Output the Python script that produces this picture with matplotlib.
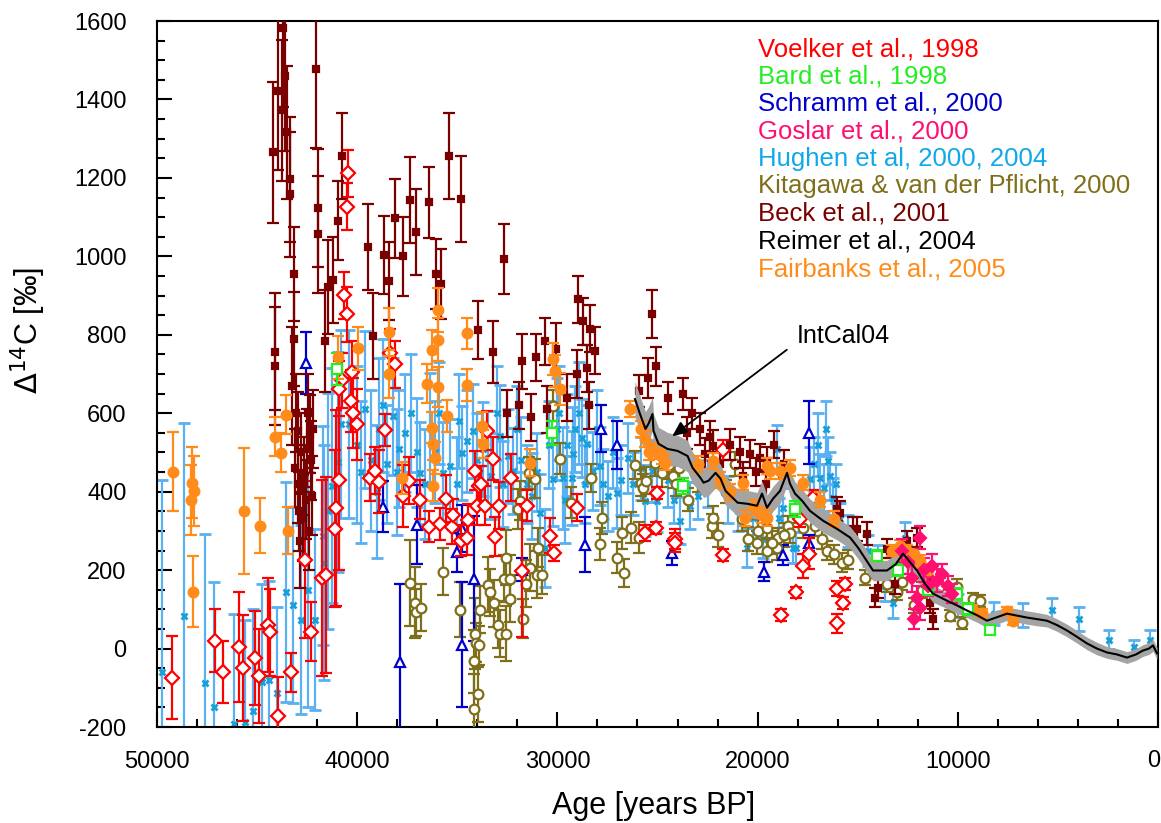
import matplotlib
matplotlib.use("Agg")
import matplotlib.pyplot as plt
from matplotlib.ticker import MultipleLocator, FuncFormatter

plt.rcParams['font.family'] = ['Liberation Sans', 'DejaVu Sans']
plt.rcParams['axes.unicode_minus'] = False

# ---------------- data ----------------
voelker_age = [49250, 47100, 46700, 45900, 45700, 45100, 44900, 44450, 44350, 43950, 43300, 42600, 42300,
               41750, 41550, 41100, 41060, 40900, 40650, 40500, 40450, 40500, 40260, 40760, 40900, 40300,
               40200, 40000, 39360, 39100, 38900, 38600, 38360, 38110, 37700, 37400, 36860, 36400, 35860,
               35560, 35260, 35210, 34810, 34510, 34460, 34110, 34010, 33910, 33810, 33610, 33510, 33220,
               32920, 33120, 32320, 31770, 31520, 30370, 30170, 29020, 25620, 25020, 25070, 24130, 24130,
               21730, 21730, 18830, 18080, 17730, 17430, 17880, 17230, 16030, 15630, 15730, 16030]
voelker_d14c = [-74, 20, -60, 5, -50, -23, -69, 59, 41, -173, -61, 227, 43,
                181, 188, 306, 359, 430, 901, 852, 1212, 1126, 705, 684, 662, 631,
                601, 572, 435, 453, 425, 557, 754, 725, 389, 428, 380, 311, 318,
                382, 311, 341, 275, 283, 328, 453, 364, 415, 420, 364, 555, 484,
                364, 285, 435, 199, 364, 288, 244, 359, 295, 397, 308, 280, 270,
                507, 239, 86, 143, 211, 242, 331, 385, 153, 165, 117, 64]
voelker_err = [105, 80, 80, 140, 135, 120, 120, 120, 110, 100, 50, 200, 75,
               250, 250, 200, 250, 230, 60, 70, 60, 60, 80, 70, 70, 80,
               90, 90, 60, 60, 80, 40, 60, 60, 80, 60, 50, 40, 40,
               60, 45, 40, 40, 45, 40, 50, 50, 50, 45, 50, 50, 55,
               60, 50, 60, 170, 40, 45, 20, 35, 20, 15, 15, 25, 25,
               25, 15, 15, 15, 30, 40, 20, 20, 20, 15, 15, 25]

bard_age = [41010, 30270, 23720, 18130, 14040, 13000, 11500, 10040, 9500, 8390]
bard_d14c = [713, 550, 415, 356, 237, 200, 150, 140, 100, 48]
bard_err = [40, 30, 20, 20, 15, 15, 15, 15, 15, 12]

schramm_age = [42560, 38700, 37850, 37010, 35020, 34770, 34770, 34170, 31770, 28620, 27820, 27020,
               24280, 19680, 18730, 17430, 17430]
schramm_d14c = [728, 361, -35, 316, 245, 306, 10, 178, 201, 265, 560, 519,
                244, 196, 239, 550, 270]
schramm_err = [80, 65, 200, 100, 50, 60, 160, 160, 30, 70, 60, 60,
               30, 25, 25, 80, 20]

goslar_age = [12800, 12500, 12300, 12190, 12040, 11890, 11890, 11700, 11500, 11300, 11040, 10800, 10490, 10300]
goslar_d14c = [250, 220, 180, 76, 130, 283, 104, 200, 160, 210, 173, 190, 160, 140]
goslar_err = [30, 30, 35, 25, 30, 30, 30, 30, 25, 30, 30, 25, 25, 25]

hughen_age = [49750, 48650, 47600, 47150, 46150, 45600, 45200, 44760, 44400, 44000, 43560, 43200, 42810,
              42450, 42100, 41710, 41650, 41460, 41260, 40960, 40810, 40410, 40000, 39600, 39300, 38900,
              38500, 38200, 37900, 37610, 36860, 36360, 35710, 35360, 34770, 34510, 34210, 33720, 33470,
              32870, 32470, 32220, 31270, 30870, 30620, 30220, 30000, 29720, 29500, 29270, 29220, 28900,
              28770, 28520, 28220, 27870, 27470, 27020, 26470, 25620, 25270, 25020, 23880, 23380, 22500,
              21500, 20530, 20230, 19730, 19030, 18930, 18730, 18230, 18080, 17380, 16880, 16480, 16230,
              15880, 13640, 13240, 12640, 8190, 6740, 5290, 3950, 2450, 1200, 400,
              39800, 39000, 38700, 38000, 37300, 37000, 36600, 36100, 35900, 35000, 34900, 34000, 33300,
              33000, 32700, 32000, 31800, 31500, 31000, 30400, 29900, 29600, 29100, 28600, 28000, 27700,
              27200, 26800, 26200, 25800, 24500, 24200, 23000, 21000, 17200, 17000, 16700, 16600, 16400,
              16100, 15500, 14500, 14000, 11000, 10000]
hughen_d14c = [-61, 84, -89, -150, -193, -186, -160, -86, -79, -114, 145, 112, 74,
               150, 74, 288, 219, 351, 415, 476, 573, 573, 520, 610, 480, 560,
               470, 592, 510, 550, 448, 563, 448, 466, 499, 530, 555, 509, 486,
               542, 491, 453, 389, 346, 257, 433, 560, 435, 520, 435, 496, 600,
               537, 522, 453, 466, 389, 397, 486, 377, 453, 377, 326, 364, 420,
               380, 257, 333, 280, 509, 333, 359, 257, 257, 433, 435, 479, 385,
               331, 160, 117, 283, 89, 86, 99, 76, 23, 3, 23,
               450, 400, 620, 450, 600, 500, 420, 500, 600, 420, 580, 480, 440,
               600, 420, 560, 480, 420, 450, 520, 600, 380, 560, 420, 560, 420,
               500, 430, 420, 460, 430, 380, 390, 350, 470, 520, 410, 560, 440,
               420, 300, 250, 230, 150, 110]
hughen_err = [490, 490, 380, 320, 280, 260, 260, 250, 250, 220, 280, 250, 240,
              300, 230, 280, 300, 300, 300, 280, 240, 240, 200, 200, 180, 180,
              150, 150, 150, 150, 130, 140, 130, 120, 120, 130, 120, 120, 120,
              130, 120, 110, 110, 100, 100, 120, 130, 130, 130, 120, 120, 130,
              100, 100, 100, 100, 90, 90, 90, 90, 80, 80, 60, 60, 60,
              60, 50, 50, 50, 60, 50, 50, 40, 40, 80, 60, 60, 50,
              40, 40, 40, 40, 30, 30, 30, 30, 25, 20, 25,
              180, 170, 170, 160, 150, 140, 140, 130, 130, 120, 120, 120, 110,
              120, 110, 110, 110, 100, 100, 110, 120, 110, 110, 100, 100, 90,
              90, 90, 80, 80, 70, 60, 60, 50, 70, 80, 60, 70, 60,
              50, 40, 40, 35, 30, 30]

kitagawa_age = [37360, 37110, 37060, 36810, 35710, 34860, 34110, 34160, 34160, 33960, 33860, 34060, 33910,
                33470, 33370, 33170, 32970, 32870, 32570, 32570, 32670, 32370, 32370, 31720, 31570, 31370,
                31020, 30770, 30970, 31120, 31420, 31870, 31970, 30220, 29870, 29320, 28320, 27770, 27870,
                27020, 26670, 26770, 26330, 25920, 26130, 25820, 25720, 25580, 25120, 24780, 24430, 24230,
                24080, 23930, 22280, 22230, 21130, 20030, 19980, 19530, 19030, 18480, 19530, 18980, 18380,
                17730, 17130, 16530, 15780, 15480, 14640, 13540, 13040, 10890, 10040, 9790, 9240, 8890, 10390,
                23500, 23000, 22000, 21600, 20800, 20500, 19300, 18700, 16800, 16200, 14200, 12800, 12200, 11800]
kitagawa_d14c = [168, 117, 92, 104, 196, 99, 38, -33, -155, -117, 99, 15, 8,
                 163, 143, 115, 61, 38, 38, 232, 178, 178, 127, 76, 165, 206,
                 188, 188, 257, 433, 448, 377, 356, 619, 484, 372, 435, 333, 267,
                 232, 193, 295, 308, 283, 468, 423, 410, 428, 474, 448, 468, 440,
                 420, 461, 313, 333, 471, 270, 300, 250, 257, 313, 308, 283, 295,
                 308, 313, 250, 219, 227, 181, 165, 143, 160, 158, 66, 127, 122, 84,
                 380, 430, 290, 400, 330, 280, 270, 290, 280, 240, 200, 170, 110, 150]
kitagawa_err = [110, 90, 60, 60, 60, 70, 90, 80, 90, 70, 60, 50, 50,
                70, 60, 60, 60, 60, 70, 70, 60, 60, 60, 50, 60, 60,
                60, 50, 50, 50, 40, 50, 50, 40, 40, 40, 35, 40, 40,
                40, 35, 40, 40, 40, 35, 35, 35, 35, 35, 35, 35, 30,
                30, 30, 30, 30, 30, 30, 30, 30, 30, 25, 25, 25, 25,
                25, 25, 25, 25, 25, 20, 20, 20, 20, 20, 15, 15, 15, 15,
                30, 30, 30, 30, 30, 30, 30, 30, 25, 25, 20, 20, 20, 20]

beck_age = [44210, 44110, 44110, 43960, 43760, 43710, 43610, 43510, 43360, 43360, 43260, 43160, 43160,
            43110, 42960, 42860, 42710, 42510, 42360, 42260, 42060, 41960, 41960, 41610, 41460, 41210,
            40960, 40760, 39460, 39210, 38660, 38410, 38110, 37710, 37360, 37060, 36410, 36060, 35810,
            35410, 34810, 33960, 33210, 32670, 31770, 31070, 30620, 30070, 28970, 28720, 28370, 28120,
            28520, 32500, 31900, 31300, 30500, 29500, 29000, 28400, 25270, 25070, 25470, 25920, 24480,
            23730, 23530, 22630, 22230, 20730, 20380, 19880, 19530, 19200, 16030, 15880, 15230, 15030,
            14540, 14140, 13990, 13540, 13140, 12540, 12040, 11540, 11390, 11240,
            43050, 42950, 42800, 42650, 42550, 42450, 42400, 42300, 42200, 42900,
            23300, 22900, 22400, 21900, 21400, 20900, 20100, 19600, 18700]
beck_d14c = [1265, 757, 720, 1421, 1372, 1581, 1459, 1316, 1196, 1158, 670, 954, 790,
             461, 555, 275, 333, 512, 547, 390, 1477, 1123, 1056, 784, 921, 939,
             1091, 1255, 1023, 797, 1003, 937, 1097, 1000, 1143, 1062, 1138, 955, 929,
             1255, 1146, 812, 756, 993, 733, 743, 784, 764, 891, 835, 815, 759,
             715, 600, 620, 590, 610, 640, 700, 620, 853, 720, 690, 657, 639,
             649, 550, 496, 517, 440, 496, 486, 479, 520, 356, 346, 305, 305,
             293, 130, 155, 255, 165, 275, 283, 181, 115, 76,
             600, 420, 500, 440, 380, 600, 300, 480, 560, 350,
             600, 560, 540, 470, 520, 500, 450, 420, 470]
beck_err = [180, 150, 150, 200, 180, 200, 190, 170, 160, 160, 150, 120, 120,
            100, 100, 120, 110, 100, 100, 100, 200, 150, 150, 130, 120, 110,
            100, 110, 110, 110, 100, 100, 100, 100, 110, 110, 90, 90, 90,
            110, 110, 75, 80, 90, 70, 60, 60, 65, 60, 60, 60, 60,
            60, 60, 60, 60, 60, 60, 60, 60, 60, 50, 50, 40, 40,
            40, 40, 40, 40, 35, 35, 35, 35, 35, 30, 30, 30, 30,
            30, 25, 25, 25, 25, 25, 25, 25, 25, 25,
            100, 100, 100, 100, 100, 100, 100, 100, 100, 100,
            40, 40, 40, 40, 40, 40, 35, 35, 35]

fairbanks_age = [49200, 48250, 48300, 48150, 48200, 45650, 44850, 43460, 44110, 43810, 43560, 40960, 39960,
                 38410, 38410, 35960, 35960, 36260, 36510, 35960, 34510, 34510, 30220, 30120, 29870, 37760,
                 36210, 36260, 35510, 36210, 36110, 33770, 33720, 31370, 26370, 25620, 25120, 24630, 22230,
                 20730, 20630, 19530, 19530, 18880, 18380, 19380, 17730, 12890, 12540, 11890, 7540, 7240,
                 25800, 25400, 24800, 23000, 21900, 21400, 20200, 19800, 16900, 16200, 13300, 12200, 11500,
                 9300, 8800]
fairbanks_d14c = [451, 423, 379, 402, 145, 351, 313, 300, 540, 499, 596, 743, 766,
                  807, 700, 863, 787, 761, 675, 667, 804, 672, 738, 708, 662, 435,
                  522, 563, 593, 415, 486, 568, 522, 474, 611, 535, 504, 474, 479,
                  423, 333, 333, 466, 453, 461, 453, 423, 262, 250, 224, 97, 71,
                  560, 500, 490, 470, 430, 400, 360, 340, 380, 330, 250, 240, 200,
                  100, 90]
fairbanks_err = [100, 90, 90, 90, 90, 160, 70, 60, 50, 50, 50, 55, 55,
                 60, 60, 55, 55, 50, 50, 50, 40, 40, 40, 40, 40, 40,
                 40, 40, 40, 40, 40, 35, 35, 35, 20, 20, 20, 20, 20,
                 20, 20, 20, 20, 20, 20, 20, 20, 15, 15, 15, 10, 10,
                 20, 20, 20, 20, 20, 20, 20, 20, 20, 20, 15, 15, 15,
                 10, 10]

intcal_age = [26124, 25874, 25600, 25450, 25250, 25200, 24950, 24500, 24000, 23500, 23250, 22850, 22700,
              22450, 22100, 21850, 21600, 21000, 20500, 20030, 19780, 19530, 19230, 18880, 18530, 18380,
              18130, 17780, 17380, 16730, 16030, 15380, 14980, 14235, 13536, 13100, 12737, 12380, 12038,
              11639, 11239, 10539, 10040, 9540, 9040, 8541, 8040, 7542, 7040, 6543, 6040, 5545, 5050,
              4546, 4050, 3546, 3050, 2547, 2050, 1548, 1100, 749, 450, 250, 50]
intcal_d14c = [636, 598, 560, 573, 598, 555, 522, 509, 504, 491, 461, 435, 423,
               428, 448, 433, 402, 372, 369, 364, 395, 359, 382, 402, 448, 420,
               395, 377, 351, 326, 305, 283, 257, 199, 199, 215, 242, 220, 199,
               165, 140, 122, 110, 97, 85, 71, 80, 89, 84, 79, 75, 71, 60,
               46, 30, 13, 0, -10, -15, -23, -15, -5, 0, 8, -12]
intcal_err = [45, 45, 44, 44, 43, 43, 42, 42, 40, 40, 40, 38, 38,
              38, 38, 36, 36, 34, 34, 34, 32, 32, 32, 32, 32, 32,
              30, 30, 30, 30, 28, 28, 28, 26, 26, 26, 26, 24, 24,
              22, 22, 20, 20, 18, 18, 18, 18, 17, 17, 17, 17, 16, 16,
              16, 16, 16, 16, 15, 15, 15, 15, 15, 15, 15, 15]

legend_labels = ["Voelker et al., 1998", "Bard et al., 1998", "Schramm et al., 2000",
                 "Goslar et al., 2000", "Hughen et al, 2000, 2004",
                 "Kitagawa & van der Pflicht, 2000", "Beck et al., 2001",
                 "Reimer et al., 2004", "Fairbanks et al., 2005"]
legend_colors = ["#ff0000", "#22ee22", "#0000cc", "#ff1070", "#10a8e8",
                 "#7f6f1a", "#7a0000", "#000000", "#ff8c1a"]

# ---------------- figure ----------------
fig = plt.figure(figsize=(11.61, 8.23), dpi=100)
ax = fig.add_axes([157/1161, 1-727/823, (1158-157)/1161, (727-21)/823])

def eb(x, y, e, color, marker, ms, mfc, ecolor=None, mew=1.6, z=2):
    ax.errorbar(x, y, yerr=e, fmt=marker, ms=ms, mfc=mfc, mec=color, mew=mew,
                ecolor=ecolor or color, elinewidth=1.6, capsize=4, capthick=1.6,
                zorder=z, clip_on=True)

eb(hughen_age, hughen_d14c, hughen_err, "#1aa0d8", "x", 4, "#1aa0d8", ecolor="#5ab0f0", mew=2, z=2)
eb(kitagawa_age, kitagawa_d14c, kitagawa_err, "#7f6f1a", "o", 7, "white", z=3)
eb(schramm_age, schramm_d14c, schramm_err, "#0000cc", "^", 7, "white", z=3)
eb(voelker_age, voelker_d14c, voelker_err, "#ff0000", "D", 7, "white", z=4)
eb(beck_age, beck_d14c, beck_err, "#7a0000", "s", 5, "#7a0000", z=4)

lo = [v - e for v, e in zip(intcal_d14c, intcal_err)]
hi = [v + e for v, e in zip(intcal_d14c, intcal_err)]
ax.fill_between(intcal_age, lo, hi, color="#a4a4a4", lw=0, zorder=5)

eb(fairbanks_age, fairbanks_d14c, fairbanks_err, "#ff8c1a", "o", 7, "#ff8c1a", z=6)
eb(bard_age, bard_d14c, bard_err, "#22ee22", "s", 7, "white", z=6)
eb(goslar_age, goslar_d14c, goslar_err, "#ff1070", "D", 6, "#ff1070", z=6)

ax.plot(intcal_age, intcal_d14c, color="black", lw=1.5, zorder=7)

ax.set_xlim(50000, 0)
ax.set_ylim(-200, 1600)
ax.xaxis.set_major_locator(MultipleLocator(10000))
ax.xaxis.set_minor_locator(MultipleLocator(2000))
ax.yaxis.set_major_locator(MultipleLocator(200))
ax.yaxis.set_minor_locator(MultipleLocator(50))
ax.xaxis.set_major_formatter(FuncFormatter(lambda v, p: "" if abs(v) < 1 else f"{int(round(v))}"))
ax.tick_params(which='both', direction='in', top=False, right=False, width=1.5, labelsize=17)
ax.tick_params(which='major', length=11)
ax.tick_params(which='minor', length=6)
ax.tick_params(axis='y', pad=22)
ax.tick_params(axis='x', pad=17)
for s in ax.spines.values():
    s.set_linewidth(1.5)

# last x tick label "0", kept inside the figure edge
fig.text(1160/1161, 1-761/823, "0", fontsize=17, ha='right', va='center')

fig.text(654/1161, 1-806/823, "Age [years BP]", fontsize=22, ha='center', va='center')
fig.text(28/1161, 1-330/823, r"$\Delta^{14}$C [‰]", fontsize=22, ha='center', va='center',
         rotation=90)

for i, (lab, col) in enumerate(zip(legend_labels, legend_colors)):
    fig.text(758/1161, 1-(49 + i*27.5)/823, lab, color=col, fontsize=18.5, ha='left', va='center')

ax.annotate("", xy=(24376, 537), xytext=(18430, 766),
            arrowprops=dict(arrowstyle="-|>,head_length=0.9,head_width=0.4", color="black", lw=1.3),
            zorder=8)
ax.text(18032, 797, "IntCal04", fontsize=18, ha='left', va='center', zorder=8)

fig.savefig("out.png", dpi=100)
